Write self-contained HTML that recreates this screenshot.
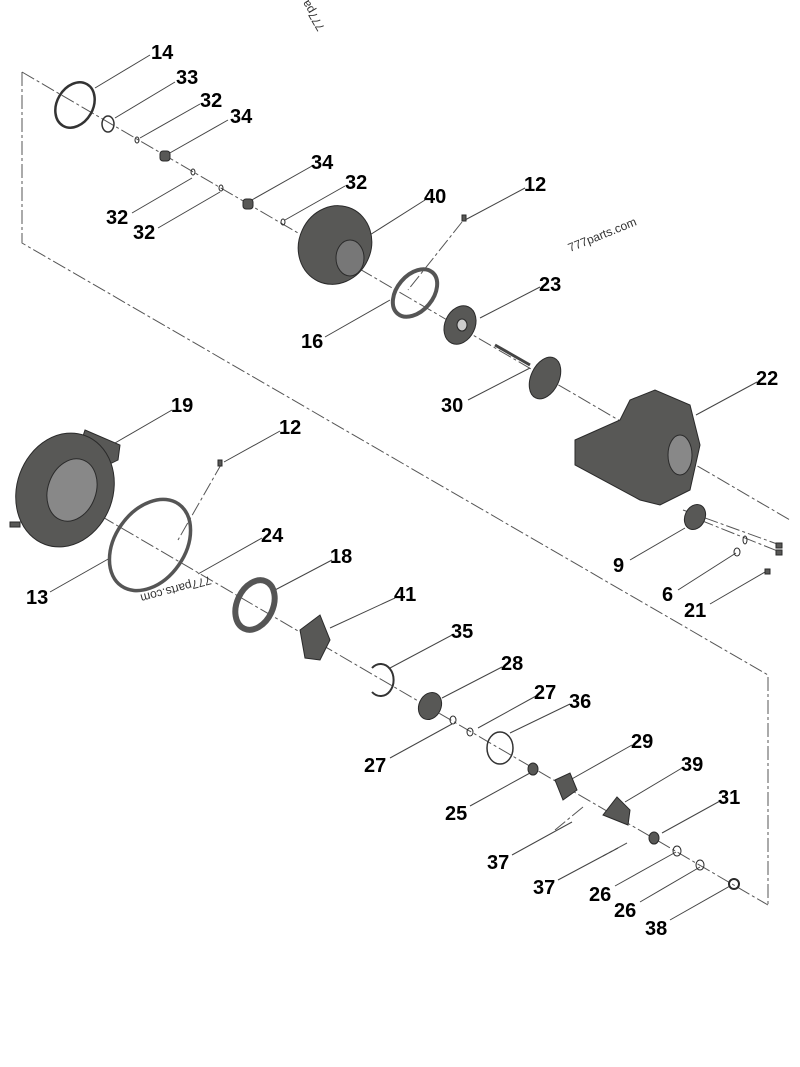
<!DOCTYPE html>
<html><head><meta charset="utf-8"><style>
html,body{margin:0;padding:0;background:#fff;}
svg{display:block;}
text{font-family:"Liberation Sans",sans-serif;font-weight:bold;font-size:20px;fill:#000;}
.w{font-weight:normal;font-size:12px;fill:#333;}
</style></head><body>
<svg width="800" height="1067" viewBox="0 0 800 1067" xmlns="http://www.w3.org/2000/svg">
<g stroke="#555" stroke-width="1" fill="none" stroke-dasharray="14,3,3,3">
<polyline points="22,72 22,243 768,675 768,905"/>
<line x1="22" y1="72" x2="790" y2="520"/>
<line x1="22" y1="470" x2="768" y2="905"/>
<line x1="462" y1="222" x2="408" y2="290"/>
<line x1="222" y1="463" x2="178" y2="540"/>
<line x1="683" y1="510" x2="780" y2="545"/>
<line x1="700" y1="520" x2="780" y2="552"/>
<line x1="583" y1="807" x2="555" y2="830"/>
<line x1="627" y1="843" x2="603" y2="856"/>
</g>
<g stroke="#444" stroke-width="1">
<line x1="95" y1="88" x2="150" y2="55"/><line x1="115" y1="118" x2="175" y2="82"/>
<line x1="140" y1="138" x2="200" y2="104"/><line x1="168" y1="154" x2="228" y2="120"/>
<line x1="132" y1="213" x2="192" y2="178"/><line x1="158" y1="228" x2="220" y2="192"/>
<line x1="250" y1="201" x2="312" y2="166"/><line x1="285" y1="220" x2="345" y2="186"/>
<line x1="365" y1="238" x2="425" y2="200"/><line x1="465" y1="220" x2="525" y2="188"/>
<line x1="480" y1="318" x2="540" y2="287"/><line x1="325" y1="337" x2="390" y2="300"/>
<line x1="468" y1="400" x2="530" y2="368"/><line x1="696" y1="415" x2="757" y2="382"/>
<line x1="115" y1="443" x2="172" y2="410"/><line x1="224" y1="462" x2="280" y2="431"/>
<line x1="50" y1="592" x2="110" y2="558"/><line x1="198" y1="574" x2="262" y2="538"/>
<line x1="275" y1="590" x2="332" y2="560"/><line x1="630" y1="560" x2="685" y2="528"/>
<line x1="678" y1="590" x2="736" y2="553"/><line x1="710" y1="604" x2="765" y2="572"/>
<line x1="330" y1="628" x2="395" y2="598"/><line x1="390" y1="668" x2="452" y2="635"/>
<line x1="442" y1="698" x2="502" y2="667"/><line x1="478" y1="728" x2="536" y2="696"/>
<line x1="510" y1="733" x2="570" y2="704"/><line x1="390" y1="758" x2="452" y2="724"/>
<line x1="570" y1="780" x2="632" y2="745"/><line x1="470" y1="806" x2="530" y2="773"/>
<line x1="625" y1="802" x2="682" y2="768"/><line x1="662" y1="833" x2="720" y2="801"/>
<line x1="512" y1="855" x2="572" y2="822"/><line x1="558" y1="880" x2="618" y2="848"/>
<line x1="615" y1="886" x2="676" y2="852"/><line x1="640" y1="902" x2="700" y2="867"/>
<line x1="670" y1="920" x2="730" y2="886"/>
</g>
<g fill="#585856" stroke="#2a2a2a">
<ellipse cx="75" cy="105" rx="18" ry="24" fill="none" stroke="#333" stroke-width="2.5" transform="rotate(30 75 105)"/>
<ellipse cx="108" cy="124" rx="6" ry="8" fill="none" stroke="#333" stroke-width="1.5"/>
<ellipse cx="137" cy="140" rx="2" ry="3" fill="none"/>
<rect x="160" y="151" width="10" height="10" rx="3"/>
<ellipse cx="193" cy="172" rx="2" ry="3" fill="none"/>
<ellipse cx="221" cy="188" rx="2" ry="3" fill="none"/>
<rect x="243" y="199" width="10" height="10" rx="3"/>
<ellipse cx="283" cy="222" rx="2" ry="3" fill="none"/>
<ellipse cx="335" cy="245" rx="36" ry="40" transform="rotate(25 335 245)"/>
<ellipse cx="350" cy="258" rx="14" ry="18" fill="#777"/>
<ellipse cx="415" cy="293" rx="18" ry="27" fill="none" stroke="#555" stroke-width="4" transform="rotate(40 415 293)"/>
<rect x="462" y="215" width="4" height="6"/>
<ellipse cx="460" cy="325" rx="15" ry="20" transform="rotate(25 460 325)"/>
<ellipse cx="462" cy="325" rx="5" ry="6" fill="#ccc"/>
<line x1="495" y1="345" x2="530" y2="365" stroke="#444" stroke-width="3"/>
<ellipse cx="545" cy="378" rx="14" ry="22" transform="rotate(25 545 378)"/>
<path d="M575,440 L620,420 L630,400 L655,390 L690,405 L700,445 L690,490 L660,505 L640,500 L575,465 Z"/>
<ellipse cx="680" cy="455" rx="12" ry="20" fill="#888"/>
<ellipse cx="695" cy="517" rx="10" ry="13" transform="rotate(25 695 517)"/>
<ellipse cx="745" cy="540" rx="2" ry="4" fill="none"/>
<rect x="776" y="543" width="6" height="5"/><rect x="776" y="550" width="6" height="5"/>
<ellipse cx="737" cy="552" rx="3" ry="4" fill="none"/>
<rect x="765" y="569" width="5" height="5"/>
<path d="M85,430 L120,445 L118,460 C100,470 80,470 75,460 Z"/>
<ellipse cx="65" cy="490" rx="48" ry="58" transform="rotate(20 65 490)"/>
<ellipse cx="72" cy="490" rx="24" ry="32" fill="#888" transform="rotate(20 72 490)"/>
<rect x="10" y="522" width="10" height="5"/>
<ellipse cx="150" cy="545" rx="35" ry="50" fill="none" stroke="#555" stroke-width="3.5" transform="rotate(35 150 545)"/>
<rect x="218" y="460" width="4" height="6"/>
<ellipse cx="255" cy="605" rx="18" ry="26" fill="none" stroke="#555" stroke-width="6" transform="rotate(25 255 605)"/>
<path d="M300,630 L320,615 L330,640 L320,660 L305,658 Z"/>
<path d="M372,668 A13,16 0 1 1 372,692" fill="none" stroke="#333" stroke-width="2"/>
<ellipse cx="430" cy="706" rx="11" ry="14" transform="rotate(25 430 706)"/>
<ellipse cx="453" cy="720" rx="3" ry="4" fill="none"/>
<ellipse cx="470" cy="732" rx="3" ry="4" fill="none"/>
<ellipse cx="500" cy="748" rx="13" ry="16" fill="none" stroke="#333" stroke-width="1.5"/>
<ellipse cx="533" cy="769" rx="5" ry="6"/>
<path d="M555,780 L570,773 L577,790 L563,800 Z"/>
<path d="M603,815 L617,797 L630,810 L628,825 Z"/>
<ellipse cx="654" cy="838" rx="5" ry="6"/>
<ellipse cx="677" cy="851" rx="4" ry="5" fill="none"/>
<ellipse cx="700" cy="865" rx="4" ry="5" fill="none"/>
<ellipse cx="734" cy="884" rx="5" ry="5" fill="none" stroke-width="2"/>
</g>
<text x="151" y="59">14</text><text x="176" y="84">33</text><text x="200" y="107">32</text>
<text x="230" y="123">34</text><text x="106" y="224">32</text><text x="133" y="239">32</text>
<text x="311" y="169">34</text><text x="345" y="189">32</text><text x="424" y="203">40</text>
<text x="524" y="191">12</text><text x="539" y="291">23</text><text x="301" y="348">16</text>
<text x="441" y="412">30</text><text x="756" y="385">22</text><text x="171" y="412">19</text>
<text x="279" y="434">12</text><text x="261" y="542">24</text><text x="330" y="563">18</text>
<text x="26" y="604">13</text><text x="613" y="572">9</text><text x="662" y="601">6</text>
<text x="684" y="617">21</text><text x="394" y="601">41</text><text x="451" y="638">35</text>
<text x="501" y="670">28</text><text x="534" y="699">27</text><text x="569" y="708">36</text>
<text x="364" y="772">27</text><text x="631" y="748">29</text><text x="681" y="771">39</text>
<text x="445" y="820">25</text><text x="718" y="804">31</text><text x="487" y="869">37</text>
<text x="533" y="894">37</text><text x="589" y="901">26</text><text x="614" y="917">26</text>
<text x="645" y="935">38</text>
<text class="w" x="570" y="252" transform="rotate(-22 570 252)">777parts.com</text>
<text class="w" x="210" y="576" transform="rotate(165 210 576)">777parts.com</text>
<text class="w" x="325" y="28" transform="rotate(-120 325 28)">777pa</text>
</svg>
</body></html>
